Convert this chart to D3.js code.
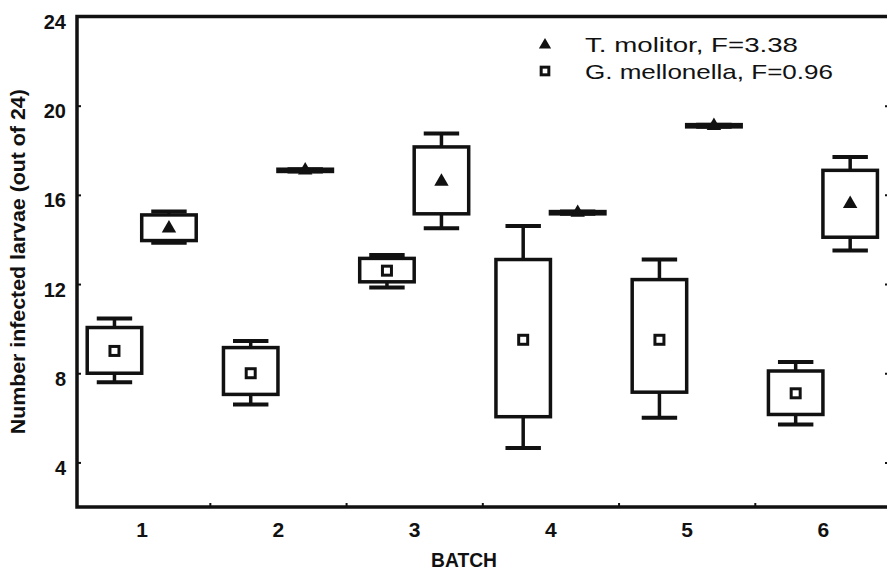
<!DOCTYPE html>
<html>
<head>
<meta charset="utf-8">
<script src="https://cdn.jsdelivr.net/npm/d3@7"></script>
<style>
  html, body { margin: 0; padding: 0; background: #fff; }
  svg { display: block; }
  text { fill: #111; }
</style>
</head>
<body>
<svg id="chart" width="887" height="572"></svg>
<script>
// Infection counts per batch (out of 24 larvae): mean, box and whisker limits
const batches = [1, 2, 3, 4, 5, 6];

const molitorMean    = [14.5, 17.1, 16.6, 15.2, 19.1, 15.6];
const molitorBoxLo   = [13.95, 17.05, 15.15, 15.15, 19.05, 14.1];
const molitorBoxHi   = [15.1, 17.15, 18.15, 15.25, 19.15, 17.1];
const molitorWhiskLo = [13.85, 17.05, 14.5, 15.15, 19.05, 13.5];
const molitorWhiskHi = [15.25, 17.15, 18.75, 15.25, 19.15, 17.7];

const mellonellaMean    = [9.0, 8.0, 12.6, 9.5, 9.5, 7.1];
const mellonellaBoxLo   = [8.0, 7.05, 12.1, 6.05, 7.15, 6.15];
const mellonellaBoxHi   = [10.05, 9.15, 13.15, 13.1, 12.2, 8.1];
const mellonellaWhiskLo = [7.6, 6.6, 11.85, 4.65, 6.0, 5.7];
const mellonellaWhiskHi = [10.45, 9.45, 13.3, 14.6, 13.1, 8.5];

const yTicks = [4, 8, 12, 16, 20, 24];
const xBoundaries = [1.5, 2.5, 3.5, 4.5, 5.5];

const seriesNames = ["T. molitor, F=3.38", "G. mellonella, F=0.96"];

const svg = d3.select("#chart");
const FONT = "'Liberation Sans', Arial, Helvetica, sans-serif";
const INK = "#111";

const x = d3.scaleLinear().domain([0.525, 6.485]).range([77, 889]);
const y = d3.scaleLinear().domain([2, 24]).range([507, 16.5]);

const series = [
  { name: seriesNames[0], offset: 0.2, marker: "triangle",
    mean: molitorMean, boxLo: molitorBoxLo, boxHi: molitorBoxHi,
    wLo: molitorWhiskLo, wHi: molitorWhiskHi },
  { name: seriesNames[1], offset: -0.2, marker: "square",
    mean: mellonellaMean, boxLo: mellonellaBoxLo, boxHi: mellonellaBoxHi,
    wLo: mellonellaWhiskLo, wHi: mellonellaWhiskHi }
];

const boxHalf = 0.2;   // half box width, batch units
const capHalf = 0.13;  // half whisker cap width

function drawMarker(g, kind, px, py, scale = 1) {
  if (kind === "triangle") {
    g.append("path")
      .attr("d", d3.symbol(d3.symbolTriangle).size(90 * scale * scale)())
      .attr("transform", `translate(${px},${py})`)
      .attr("fill", INK);
  } else {
    const h = 4.5 * scale;
    g.append("rect")
      .attr("x", px - h).attr("y", py - h)
      .attr("width", 2 * h).attr("height", 2 * h)
      .attr("fill", "#fff").attr("stroke", INK).attr("stroke-width", 3);
  }
}

// ---- boxes ----
const plot = svg.append("g");
series.forEach(s => {
  const g = plot.append("g");
  batches.forEach((b, i) => {
    const cx = b + s.offset;
    // whisker stems
    g.append("line")
      .attr("x1", x(cx)).attr("x2", x(cx))
      .attr("y1", y(s.wHi[i])).attr("y2", y(s.boxHi[i]))
      .attr("stroke", INK).attr("stroke-width", 3.5);
    g.append("line")
      .attr("x1", x(cx)).attr("x2", x(cx))
      .attr("y1", y(s.boxLo[i])).attr("y2", y(s.wLo[i]))
      .attr("stroke", INK).attr("stroke-width", 3.5);
    // whisker caps
    [s.wHi[i], s.wLo[i]].forEach(v => {
      g.append("line")
        .attr("x1", x(cx - capHalf)).attr("x2", x(cx + capHalf))
        .attr("y1", y(v)).attr("y2", y(v))
        .attr("stroke", INK).attr("stroke-width", 4);
    });
    // box
    g.append("rect")
      .attr("x", x(cx - boxHalf))
      .attr("y", y(s.boxHi[i]))
      .attr("width", x(cx + boxHalf) - x(cx - boxHalf))
      .attr("height", y(s.boxLo[i]) - y(s.boxHi[i]))
      .attr("fill", "#fff")
      .attr("stroke", INK).attr("stroke-width", 3.5);
    // mean marker
    drawMarker(g, s.marker, x(cx), y(s.mean[i]));
  });
});

// ---- axes ----
const yAxis = svg.append("g")
  .attr("transform", `translate(${x.range()[0]},0)`)
  .call(d3.axisLeft(y).tickValues(yTicks).tickSize(-4).tickPadding(11));
yAxis.select(".domain").remove();
yAxis.selectAll("line").attr("stroke", INK).attr("stroke-width", 2);
yAxis.selectAll("text")
  .attr("font-family", FONT).attr("font-size", 20).attr("font-weight", "bold")
  .attr("dy", "0.6em").attr("fill", INK);

const yAxisRight = svg.append("g")
  .attr("transform", `translate(${x.range()[1]},0)`)
  .call(d3.axisRight(y).tickValues(yTicks).tickSize(-4).tickFormat(""));
yAxisRight.select(".domain").remove();
yAxisRight.selectAll("line").attr("stroke", INK).attr("stroke-width", 2);

const xAxis = svg.append("g")
  .attr("transform", `translate(0,${y.range()[0]})`)
  .call(d3.axisBottom(x).tickValues(batches).tickSize(0).tickPadding(15)
    .tickFormat(d3.format("d")));
xAxis.select(".domain").remove();
xAxis.selectAll("text")
  .attr("font-family", FONT).attr("font-size", 21).attr("font-weight", "bold")
  .attr("fill", INK);

const xTickMarks = svg.append("g")
  .attr("transform", `translate(0,${y.range()[0]})`)
  .call(d3.axisBottom(x).tickValues(xBoundaries).tickSize(-4).tickFormat(""));
xTickMarks.select(".domain").remove();
xTickMarks.selectAll("line").attr("stroke", INK).attr("stroke-width", 2);

// frame
svg.append("rect")
  .attr("x", x.range()[0]).attr("y", y.range()[1])
  .attr("width", x.range()[1] - x.range()[0])
  .attr("height", y.range()[0] - y.range()[1])
  .attr("fill", "none").attr("stroke", INK).attr("stroke-width", 3.5);

// axis titles
svg.append("text")
  .attr("x", 464).attr("y", 567)
  .attr("text-anchor", "middle")
  .attr("font-family", FONT).attr("font-size", 21).attr("font-weight", "bold")
  .attr("textLength", 66).attr("lengthAdjust", "spacingAndGlyphs")
  .text("BATCH");

svg.append("text")
  .attr("transform", `translate(25,${(y.range()[0] + y.range()[1]) / 2}) rotate(-90)`)
  .attr("text-anchor", "middle")
  .attr("font-family", FONT).attr("font-size", 20).attr("font-weight", "bold")
  .attr("textLength", 345).attr("lengthAdjust", "spacingAndGlyphs")
  .text("Number infected larvae (out of 24)");

// legend
const legend = svg.append("g");
const legendRows = [
  { s: series[0], ty: 45, base: 52, len: 213 },
  { s: series[1], ty: 71, base: 79, len: 248 }
];
legendRows.forEach(r => {
  drawMarker(legend, r.s.marker, 545, r.ty, 0.85);
  legend.append("text")
    .attr("x", 585).attr("y", r.base)
    .attr("font-family", FONT).attr("font-size", 21)
    .attr("textLength", r.len).attr("lengthAdjust", "spacingAndGlyphs")
    .text(r.s.name);
});
</script>
</body>
</html>
